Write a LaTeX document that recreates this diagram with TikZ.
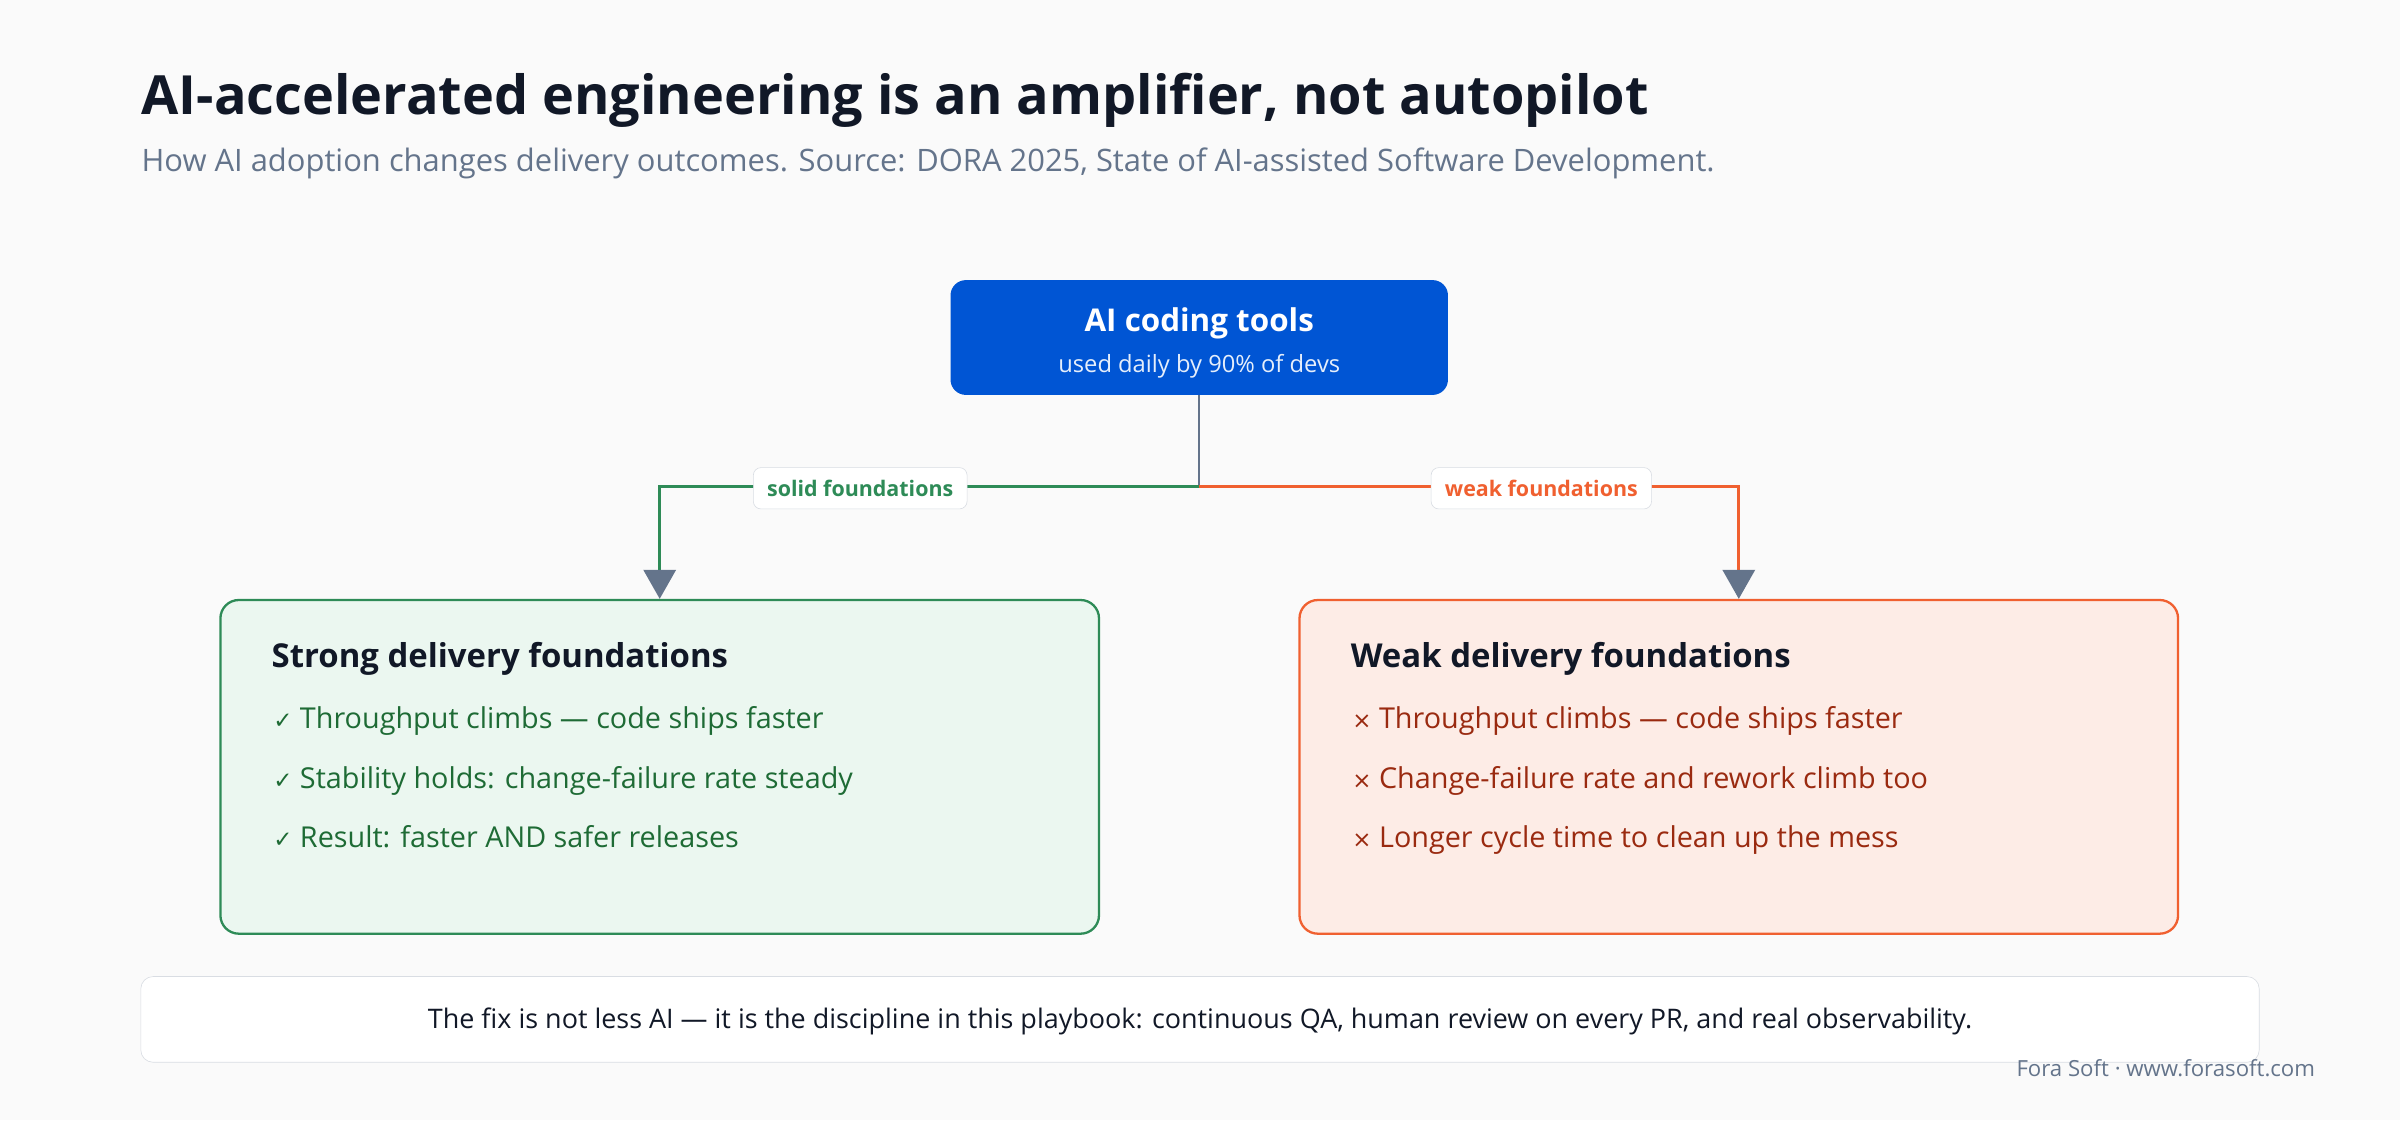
\documentclass[tikz,border=0pt]{standalone}
\usepackage{fontspec}
\setmainfont{Open Sans}
\newfontfamily\symf{DejaVu Sans}
\usetikzlibrary{arrows.meta}
\definecolor{bg}{HTML}{FAFAFA}
\definecolor{ink}{HTML}{111827}
\definecolor{sub}{HTML}{64748B}
\definecolor{blue}{HTML}{0055D4}
\definecolor{grn}{HTML}{2E8B57}
\definecolor{grnd}{HTML}{1E6B35}
\definecolor{grnf}{HTML}{EBF7F0}
\definecolor{org}{HTML}{F06030}
\definecolor{orgd}{HTML}{9A2A10}
\definecolor{orgf}{HTML}{FDECE6}
\definecolor{bord}{HTML}{D9DDE3}
\tikzset{
 lbl/.style={draw=bord,fill=white,rounded corners=5pt,font=\fontsize{14}{16}\selectfont\bfseries,inner xsep=9pt,minimum height=27pt},
 tip/.style={-{Triangle[width=21pt,length=19pt,fill=sub,color=sub]}},
 item/.style={anchor=base west,font=\fontsize{18.8}{20}\selectfont},
 head/.style={anchor=base west,font=\fontsize{21.5}{24}\selectfont\bfseries,text=ink},
}
\newcommand{\ck}{{\symf\fontsize{15}{18}\selectfont ✓}}
\newcommand{\xx}{{\symf\fontsize{15}{18}\selectfont ×}}
\begin{document}
\begin{tikzpicture}[x=1pt,y=-1pt]
\fill[bg] (0,0) rectangle (1568,732);
\useasboundingbox (0,0) rectangle (1568,732);
\node[anchor=base west,font=\fontsize{35.3}{40}\selectfont\bfseries,text=ink] (title) at (89,75) {AI-accelerated engineering is an amplifier, not autopilot};
\node[anchor=base west,font=\fontsize{20.2}{22}\selectfont,text=sub] (subt) at (89,112) {How AI adoption changes delivery outcomes. Source: DORA 2025, State of AI-assisted Software Development.};
\node[fill=blue,rounded corners=10pt,minimum width=325pt,minimum height=75pt] (top) at (783.5,220.5) {};
\node[text=white,font=\fontsize{20.5}{24}\selectfont\bfseries] (tt) at (783.5,211) {AI coding tools};
\node[text=white!90!blue,font=\fontsize{15.5}{18}\selectfont] (ts) at (783.5,239) {used daily by 90\% of devs};
\node[draw=grn,line width=1.5pt,fill=grnf,rounded corners=12pt,minimum width=574pt,minimum height=218pt] (L) at (431,501) {};
\node[draw=org,line width=1.5pt,fill=orgf,rounded corners=12pt,minimum width=574pt,minimum height=218pt] (R) at (1136,501) {};
\coordinate (j) at (783.5,318);
\draw[sub,line width=1.5pt] (top.south) -- (j);
\draw[grn,line width=2pt,tip] (j) -| (L.north);
\draw[org,line width=2pt,tip] (j) -| (R.north);
\node[lbl,text=grn] (ls) at (562,319) {solid foundations};
\node[lbl,text=org] (lw) at (1007,319) {weak foundations};
\node[head] (lh) at (174,436) {Strong delivery foundations};
\node[item,text=grnd] (l1) at (175,476) {\ck\ Throughput climbs — code ships faster};
\node[item,text=grnd] (l2) at (175,515) {\ck\ Stability holds: change-failure rate steady};
\node[item,text=grnd] (l3) at (175,554) {\ck\ Result: faster AND safer releases};
\node[head] (rh) at (879,436) {Weak delivery foundations};
\node[item,text=orgd] (r1) at (880,476) {\xx\ Throughput climbs — code ships faster};
\node[item,text=orgd] (r2) at (880,515) {\xx\ Change-failure rate and rework climb too};
\node[item,text=orgd] (r3) at (880,554) {\xx\ Longer cycle time to clean up the mess};
\node[draw=bord,fill=white,rounded corners=8pt,minimum width=1384pt,minimum height=56pt] (foot) at (784,666) {};
\node[text=ink,font=\fontsize{17.6}{20}\selectfont] (ft) at (784,667) {The fix is not less AI — it is the discipline in this playbook: continuous QA, human review on every PR, and real observability.};
\node[anchor=base east,text=sub,font=\fontsize{14.5}{16}\selectfont] (cr) at (1516,703) {Fora Soft · www.forasoft.com};
\end{tikzpicture}
\end{document}
